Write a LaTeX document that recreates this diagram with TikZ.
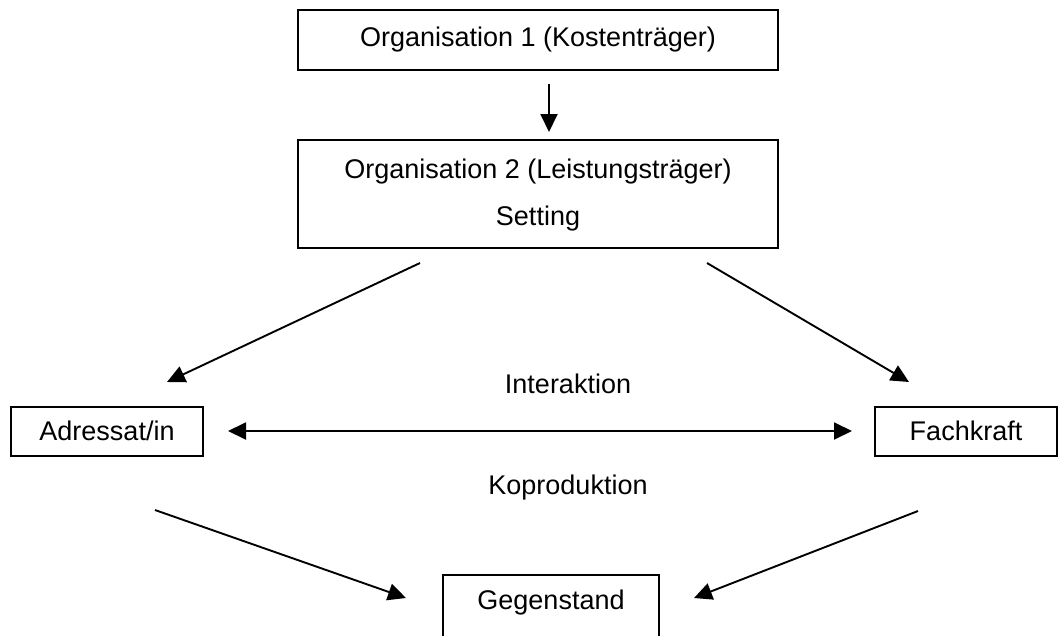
\documentclass[tikz,border=0pt]{standalone}
\usepackage{fontspec}
\setmainfont{Liberation Sans}
\usetikzlibrary{arrows.meta}
\begin{document}
\begin{tikzpicture}[x=1pt,y=-1pt,
  box/.style={draw,line width=2pt,inner sep=0pt,font=\fontsize{27}{32}\selectfont},
  lbl/.style={inner sep=0pt,font=\fontsize{27}{32}\selectfont},
  arr/.style={line width=1.9pt,-{Triangle[length=18pt,width=17pt]}},
  darr/.style={line width=1.9pt,{Triangle[length=18pt,width=17pt]}-{Triangle[length=18pt,width=17pt]}}]
\useasboundingbox (0,0) rectangle (1058,635);
\clip (0,0) rectangle (1058,635);
\node[box,minimum width=480pt,minimum height=60pt] (o1) at (538,40) {Organisation 1 (Kostenträger)};
\node[box,minimum width=480pt,minimum height=108pt] (o2) at (538,194) {};
\node[lbl] (o2a) at (538,172) {Organisation 2 (Leistungsträger)};
\node[lbl] (o2b) at (538,219) {Setting};
\node[box,minimum width=192pt,minimum height=49pt] (adr) at (107,431) {Adressat/in};
\node[box,minimum width=182pt,minimum height=49pt] (fach) at (966,431) {Fachkraft};
\node[lbl] (inter) at (568,384) {Interaktion};
\node[lbl] (kopro) at (568,488) {Koproduktion};
\node[lbl] (geg) at (551,603) {Gegenstand};
\draw[line width=2pt] (443,645) |- (659,575) -- (659,645);
\coordinate (d1) at (549,84);
\coordinate (d2) at (549,132);
\coordinate (l1) at (420,263);
\coordinate (l2) at (167,382);
\coordinate (r1) at (707,263);
\coordinate (r2) at (909,382);
\coordinate (h1) at (228,431);
\coordinate (h2) at (852,431);
\coordinate (bl1) at (155,510);
\coordinate (bl2) at (406,598);
\coordinate (br1) at (918,511);
\coordinate (br2) at (694,598);
\draw[arr] (d1) -- (d2);
\draw[arr] (l1) -- (l2);
\draw[arr] (r1) -- (r2);
\draw[darr] (h1) -- (h2);
\draw[arr] (bl1) -- (bl2);
\draw[arr] (br1) -- (br2);
\end{tikzpicture}
\end{document}
